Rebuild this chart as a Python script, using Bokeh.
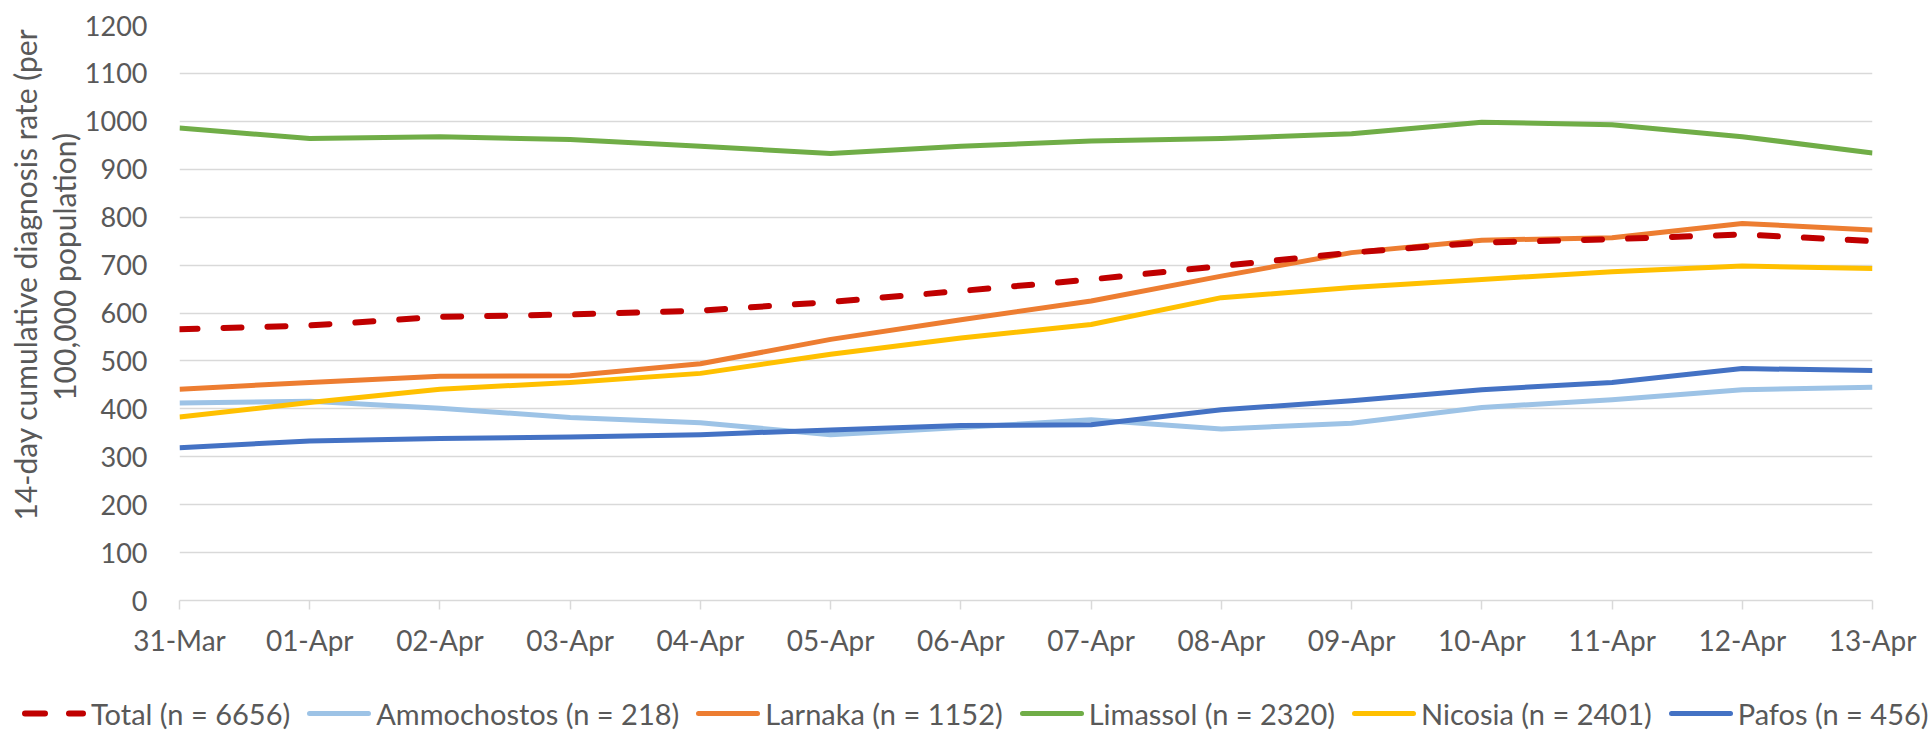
from bokeh.plotting import figure
from bokeh.models import Range1d, FixedTicker, LinearAxis, Div
from bokeh.layouts import column
from bokeh.embed import file_html
from bokeh.resources import INLINE

dates = ["31-Mar", "01-Apr", "02-Apr", "03-Apr", "04-Apr", "05-Apr", "06-Apr",
         "07-Apr", "08-Apr", "09-Apr", "10-Apr", "11-Apr", "12-Apr", "13-Apr"]
total = [566, 574, 592, 597, 605, 623, 646, 670, 698, 726, 747, 754, 764, 750]
ammochostos = [412, 416, 401, 382, 371, 346, 361, 377, 358, 370, 403, 419, 440, 445]
larnaka = [441, 455, 468, 469, 494, 545, 586, 625, 677, 726, 752, 757, 787, 773]
limassol = [986, 964, 968, 962, 948, 933, 948, 959, 964, 974, 998, 993, 968, 934]
nicosia = [383, 413, 441, 455, 474, 514, 548, 576, 632, 653, 670, 686, 698, 693]
pafos = [319, 333, 338, 341, 346, 356, 365, 367, 398, 417, 440, 455, 484, 480]

series_names = ["Total (n = 6656)", "Ammochostos (n = 218)", "Larnaka (n = 1152)",
                "Limassol (n = 2320)", "Nicosia (n = 2401)", "Pafos (n = 456)"]
y_ticks = list(range(0, 1201, 100))
y_title_lines = ["14-day cumulative diagnosis rate (per", "100,000 population)"]

FONT = "Lato"
TXT = "#595959"
GRID = "#D9D9D9"
colors = ["#C00000", "#9DC3E6", "#ED7D31", "#70AD47", "#FFC000", "#4472C4"]
data = [total, ammochostos, larnaka, limassol, nicosia, pafos]

xs = list(range(len(dates)))

W = 1931
H_MAIN = 680
H_LEG = 54
# leading no-break spaces shift the frame-centred title upward like the original
PAD1 = "\u00a0" * 10
PAD2 = "\u00a0" * 12

p = figure(width=W, height=H_MAIN, output_backend="svg", toolbar_location=None,
           x_range=Range1d(0, len(dates) - 1), y_range=Range1d(0, 1200),
           min_border_left=179, min_border_right=59, min_border_top=25,
           min_border_bottom=80)
p.outline_line_color = None
p.background_fill_color = "white"
p.border_fill_color = "white"

# x axis
p.xaxis.ticker = FixedTicker(ticks=xs)
p.xaxis.major_label_overrides = {i: d for i, d in enumerate(dates)}
p.xaxis.axis_line_color = GRID
p.xaxis.axis_line_width = 1.5
p.xaxis.major_tick_line_color = GRID
p.xaxis.major_tick_line_width = 1.5
p.xaxis.major_tick_out = 9
p.xaxis.major_tick_in = 0
p.xaxis.minor_tick_line_color = None
p.xaxis.major_label_text_font = FONT
p.xaxis.major_label_text_font_size = "28px"
p.xaxis.major_label_text_color = TXT
p.xaxis.major_label_standoff = 13

# y axis (inner: tick labels + second title line)
p.yaxis.ticker = FixedTicker(ticks=y_ticks)
p.yaxis.axis_line_color = None
p.yaxis.major_tick_line_color = None
p.yaxis.minor_tick_line_color = None
p.yaxis.major_tick_out = 0
p.yaxis.major_tick_in = 0
p.yaxis.major_label_text_font = FONT
p.yaxis.major_label_text_font_size = "27px"
p.yaxis.major_label_text_color = TXT
p.yaxis.major_label_standoff = 32
p.yaxis.axis_label = PAD2 + y_title_lines[1]
p.yaxis.axis_label_text_font = FONT
p.yaxis.axis_label_text_font_size = "30px"
p.yaxis.axis_label_text_font_style = "normal"
p.yaxis.axis_label_text_color = TXT
p.yaxis.axis_label_standoff = 0

# outer axis carrying the first title line
outer = LinearAxis(ticker=FixedTicker(ticks=[]), axis_line_color=None,
                   major_tick_line_color=None, minor_tick_line_color=None,
                   major_tick_out=0, major_tick_in=0, major_label_standoff=0,
                   axis_label=PAD1 + y_title_lines[0], axis_label_text_font=FONT,
                   axis_label_text_font_size="30px", axis_label_text_font_style="normal",
                   axis_label_text_color=TXT, axis_label_standoff=0)
p.add_layout(outer, "left")

p.xgrid.grid_line_color = None
p.ygrid.grid_line_color = GRID
p.ygrid.grid_line_width = 1.5
p.ygrid.ticker = FixedTicker(ticks=y_ticks[1:])

for vals, col in zip(data[1:], colors[1:]):
    p.line(xs, vals, line_color=col, line_width=5, line_join="round")
p.line(xs, total, line_color=colors[0], line_width=6, line_dash="18 26",
       line_cap="round", line_join="round")

# legend strip below the chart (HTML, built from the series lists)
items_html = []
for i, (name, col) in enumerate(zip(series_names, colors)):
    if i == 0:
        stroke = (f'<line x1="3" y1="10" x2="61" y2="10" stroke="{col}" stroke-width="6" '
                  f'stroke-linecap="round" stroke-dasharray="20 24"/>')
    else:
        stroke = (f'<line x1="2.5" y1="10" x2="61.5" y2="10" stroke="{col}" stroke-width="5" '
                  f'stroke-linecap="round"/>')
    items_html.append(
        '<div style="display:flex;align-items:center;">'
        f'<svg width="64" height="20" style="display:block;">{stroke}</svg>'
        f'<span style="margin-left:5px;">{name}</span></div>'
    )

legend_html = (
    f'<div style="position:relative;width:{W}px;height:{H_LEG}px;">'
    '<div style="position:absolute;left:22px;top:33px;transform:translateY(-50%);'
    f'display:flex;align-items:center;gap:17px;white-space:nowrap;'
    f'font-family:{FONT};font-size:29px;line-height:1;color:{TXT};">'
    + "".join(items_html) +
    '</div></div>'
)
leg = Div(text=legend_html, width=W, height=H_LEG, styles={"margin": "0", "padding": "0"})

layout = column(p, leg, spacing=0)
open("out.html", "w").write(file_html(layout, INLINE))
